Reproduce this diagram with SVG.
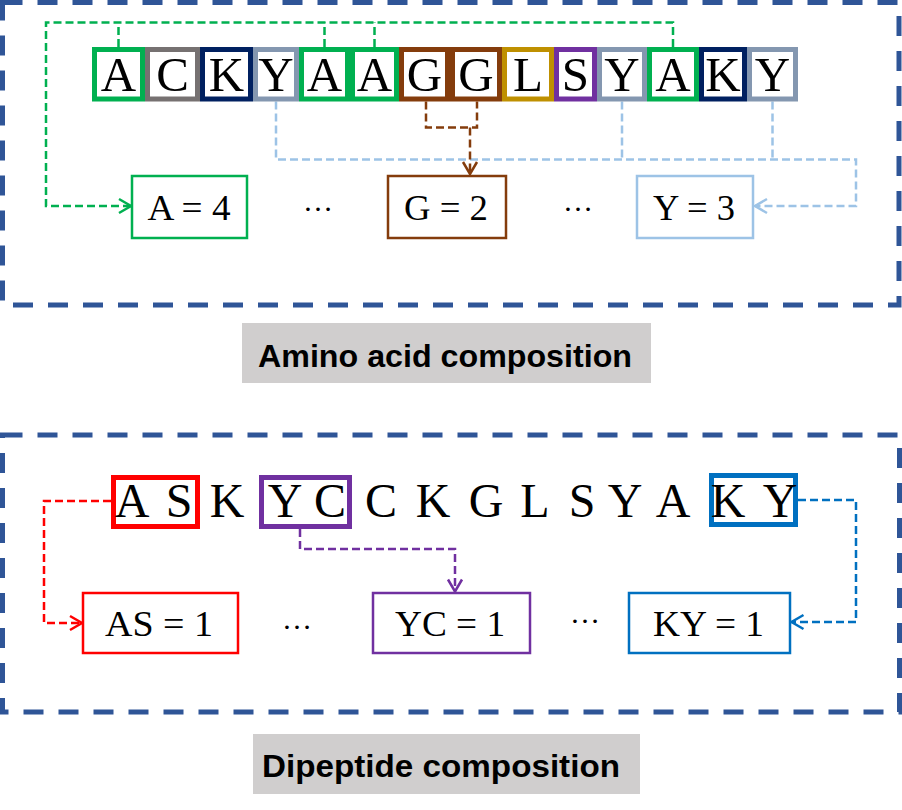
<svg xmlns="http://www.w3.org/2000/svg" width="902" height="810" viewBox="0 0 902 810">
<style>
.frame{fill:none;stroke:#2F5597;stroke-width:5;stroke-dasharray:20 15}
.cell{fill:#fff;stroke-width:5}
.let{font-family:"Liberation Serif",serif;font-size:49px;text-anchor:middle;fill:#000}
.let2{font-family:"Liberation Serif",serif;font-size:48px;text-anchor:middle;fill:#000}
.res{fill:#fff;stroke-width:2.5}
.rt{font-family:"Liberation Serif",serif;font-size:36px;text-anchor:middle;fill:#000}
.dots{font-family:"Liberation Serif",serif;font-size:30px;text-anchor:middle;fill:#000}
.con{fill:none;stroke-width:2.5;stroke-dasharray:8 4}
.lab{fill:#D0CECE}
.lt{font-family:"Liberation Sans",Arial,sans-serif;font-weight:bold;font-size:31px;text-anchor:middle;fill:#000}
</style>
<defs>
<marker id="mG" viewBox="0 0 12 14" refX="12" refY="7" markerWidth="12" markerHeight="14" markerUnits="userSpaceOnUse" orient="auto" overflow="visible"><path d="M0,0 L12,7 L0,14" fill="none" stroke="#00B050" stroke-width="2.5"/></marker>
<marker id="mL" viewBox="0 0 12 14" refX="12" refY="7" markerWidth="12" markerHeight="14" markerUnits="userSpaceOnUse" orient="auto" overflow="visible"><path d="M0,0 L12,7 L0,14" fill="none" stroke="#9DC3E6" stroke-width="2.5"/></marker>
<marker id="mB" viewBox="0 0 12 14" refX="12" refY="7" markerWidth="12" markerHeight="14" markerUnits="userSpaceOnUse" orient="auto" overflow="visible"><path d="M0,0 L12,7 L0,14" fill="none" stroke="#843C0C" stroke-width="2.5"/></marker>
<marker id="mR" viewBox="0 0 12 14" refX="12" refY="7" markerWidth="12" markerHeight="14" markerUnits="userSpaceOnUse" orient="auto" overflow="visible"><path d="M0,0 L12,7 L0,14" fill="none" stroke="#FF0000" stroke-width="2.5"/></marker>
<marker id="mP" viewBox="0 0 12 14" refX="12" refY="7" markerWidth="12" markerHeight="14" markerUnits="userSpaceOnUse" orient="auto" overflow="visible"><path d="M0,0 L12,7 L0,14" fill="none" stroke="#7030A0" stroke-width="2.5"/></marker>
<marker id="mU" viewBox="0 0 12 14" refX="12" refY="7" markerWidth="12" markerHeight="14" markerUnits="userSpaceOnUse" orient="auto" overflow="visible"><path d="M0,0 L12,7 L0,14" fill="none" stroke="#0070C0" stroke-width="2.5"/></marker>
</defs>

<rect id="frame-aac" class="frame" x="2.5" y="2.5" width="896.5" height="302.5"/>
<rect id="frame-dpc" class="frame" x="2.5" y="435" width="897" height="277"/>

<g id="connectors">
<path class="con" stroke="#00B050" d="M673,47 V22.5 H46 V206 H131" marker-end="url(#mG)"/>
<path class="con" stroke="#00B050" d="M118.5,47 V22.5"/>
<path class="con" stroke="#00B050" d="M324.5,47 V22.5"/>
<path class="con" stroke="#00B050" d="M374.5,47 V22.5"/>
<path class="con" stroke="#9DC3E6" d="M276,101.5 V159.5 H856 V206 H755" marker-end="url(#mL)"/>
<path class="con" stroke="#9DC3E6" d="M622,101.5 V159.5"/>
<path class="con" stroke="#9DC3E6" d="M772.5,101.5 V159.5"/>
<path class="con" stroke="#843C0C" d="M426,101.5 V127.5 H477 V101.5"/>
<path class="con" stroke="#843C0C" d="M470,127.5 V174" marker-end="url(#mB)"/>
<path class="con" stroke="#FF0000" d="M111,501 H44 V623 H82" marker-end="url(#mR)"/>
<path class="con" stroke="#7030A0" d="M300,529 V549 H455 V591.5" marker-end="url(#mP)"/>
<path class="con" stroke="#0070C0" d="M798,500 H856 V622 H791.5" marker-end="url(#mU)"/>
</g>

<g id="seq-aac">
<rect class="cell" stroke="#00B050" x="94.5" y="49.5" width="48" height="49.5"/><text class="let" x="118.5" y="91">A</text>
<rect class="cell" stroke="#767171" x="147.5" y="49.5" width="50" height="49.5"/><text class="let" x="172.5" y="91">C</text>
<rect class="cell" stroke="#002060" x="202.5" y="49.5" width="48" height="49.5"/><text class="let" x="226.5" y="91">K</text>
<rect class="cell" stroke="#8497B0" x="255.5" y="49.5" width="41" height="49.5"/><text class="let" x="276" y="91">Y</text>
<rect class="cell" stroke="#00B050" x="301.5" y="49.5" width="46" height="49.5"/><text class="let" x="324.5" y="91">A</text>
<rect class="cell" stroke="#00B050" x="352.5" y="49.5" width="44" height="49.5"/><text class="let" x="374.5" y="91">A</text>
<rect class="cell" stroke="#843C0C" x="401.5" y="49.5" width="46" height="49.5"/><text class="let" x="424.5" y="91">G</text>
<rect class="cell" stroke="#843C0C" x="452.5" y="49.5" width="47" height="49.5"/><text class="let" x="476" y="91">G</text>
<rect class="cell" stroke="#BF9000" x="504.5" y="49.5" width="47" height="49.5"/><text class="let" x="528" y="91">L</text>
<rect class="cell" stroke="#7030A0" x="556.5" y="49.5" width="38" height="49.5"/><text class="let" x="575.5" y="91">S</text>
<rect class="cell" stroke="#8497B0" x="599.5" y="49.5" width="45" height="49.5"/><text class="let" x="622" y="91">Y</text>
<rect class="cell" stroke="#00B050" x="649.5" y="49.5" width="47" height="49.5"/><text class="let" x="673" y="91">A</text>
<rect class="cell" stroke="#002060" x="701.5" y="49.5" width="43" height="49.5"/><text class="let" x="723" y="91">K</text>
<rect class="cell" stroke="#8497B0" x="749.5" y="49.5" width="46" height="49.5"/><text class="let" x="772.5" y="91">Y</text>
</g>

<g id="res-A"><rect class="res" stroke="#00B050" x="132" y="176" width="115" height="62"/><text class="rt" x="189" y="220" textLength="83" lengthAdjust="spacingAndGlyphs">A = 4</text></g>
<g id="res-G"><rect class="res" stroke="#843C0C" x="388" y="176" width="118" height="62"/><text class="rt" x="446" y="220" textLength="84" lengthAdjust="spacingAndGlyphs">G = 2</text></g>
<g id="res-Y"><rect class="res" stroke="#9DC3E6" x="637" y="176" width="116" height="62"/><text class="rt" x="694" y="220" textLength="82" lengthAdjust="spacingAndGlyphs">Y = 3</text></g>
<text class="dots" x="318" y="211">…</text>
<text class="dots" x="578" y="211">…</text>

<g id="label-aac"><rect class="lab" x="242" y="323" width="409" height="60"/><text class="lt" x="445" y="367" textLength="374" lengthAdjust="spacingAndGlyphs">Amino acid composition</text></g>

<g id="seq-dpc">
<rect fill="none" stroke="#FF0000" stroke-width="5" x="113.5" y="477.5" width="84" height="49"/>
<rect fill="none" stroke="#7030A0" stroke-width="5" x="261.5" y="477.5" width="88" height="49"/>
<rect fill="none" stroke="#0070C0" stroke-width="5" x="711.5" y="475.5" width="84" height="49"/>
<text class="let2" x="132" y="517">A</text>
<text class="let2" x="179" y="517">S</text>
<text class="let2" x="227" y="517">K</text>
<text class="let2" x="285" y="517">Y</text>
<text class="let2" x="330" y="517">C</text>
<text class="let2" x="381" y="517">C</text>
<text class="let2" x="433" y="517">K</text>
<text class="let2" x="486" y="517">G</text>
<text class="let2" x="535" y="517">L</text>
<text class="let2" x="582" y="517">S</text>
<text class="let2" x="625" y="517">Y</text>
<text class="let2" x="673" y="517">A</text>
<text class="let2" x="728" y="517">K</text>
<text class="let2" x="780" y="517">Y</text>
</g>

<g id="res-AS"><rect class="res" stroke="#FF0000" x="83" y="593" width="155" height="60"/><text class="rt" x="159" y="636" textLength="108" lengthAdjust="spacingAndGlyphs">AS = 1</text></g>
<g id="res-YC"><rect class="res" stroke="#7030A0" x="373" y="593" width="157" height="60"/><text class="rt" x="450" y="636" textLength="110" lengthAdjust="spacingAndGlyphs">YC = 1</text></g>
<g id="res-KY"><rect class="res" stroke="#0070C0" x="629" y="593" width="161" height="60"/><text class="rt" x="708.5" y="636" textLength="111" lengthAdjust="spacingAndGlyphs">KY = 1</text></g>
<text class="dots" x="297" y="629">…</text>
<text class="dots" x="585" y="623">…</text>

<g id="label-dpc"><rect class="lab" x="253" y="734" width="387" height="60"/><text class="lt" x="441" y="777" textLength="358" lengthAdjust="spacingAndGlyphs">Dipeptide composition</text></g>
</svg>
